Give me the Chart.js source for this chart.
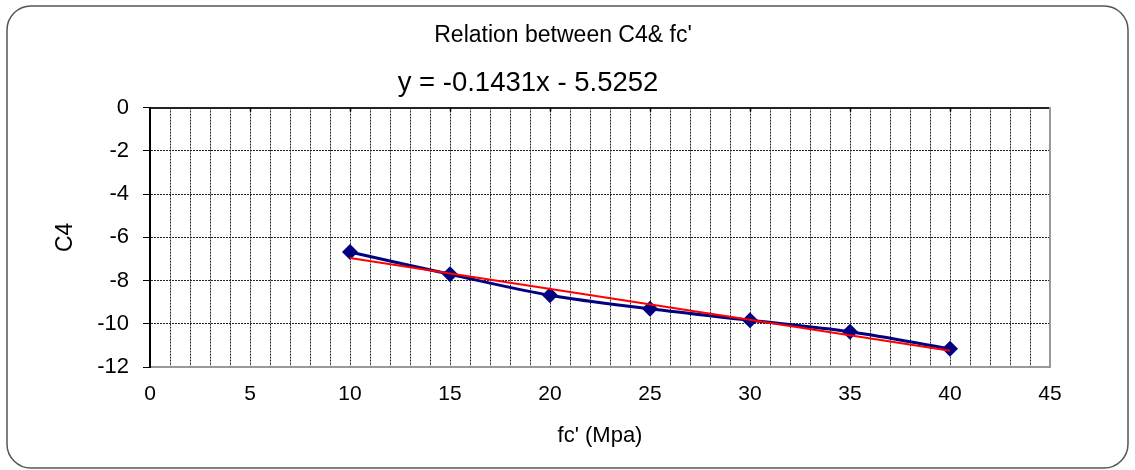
<!DOCTYPE html>
<html>
<head>
<meta charset="utf-8">
<script src="https://cdn.jsdelivr.net/npm/chart.js@4"></script>
<style>
  body { margin: 0; background: #fff; }
</style>
</head>
<body>
<canvas id="myChart" width="1135" height="470"></canvas>
<script>
const fc = [10, 15, 20, 25, 30, 35, 40]
const valoresC4 = [-6.68, -7.71, -8.68, -9.31, -9.84, -10.37, -11.16]
const tendenciaX = [10, 40]
const tendenciaY = [-6.96, -11.25]
const ecuacion = 'y = -0.1431x - 5.5252'
const titulo = "Relation between C4& fc'"

Chart.defaults.font.family = 'Arial, "Liberation Sans", sans-serif'
Chart.defaults.color = '#000'

// marco redondeado, ecuacion de la tendencia y marcas de arriba
const marco = {
    id: 'marco',
    beforeDraw(chart) {
        const ctx = chart.ctx
        ctx.save()
        ctx.strokeStyle = '#555'
        ctx.lineWidth = 1.5
        ctx.beginPath()
        ctx.roundRect(7, 6, 1121, 462, 24)
        ctx.stroke()
        ctx.restore()
    },
    afterDraw(chart) {
        const ctx = chart.ctx
        const ca = chart.chartArea
        const x = chart.scales.x
        ctx.save()
        ctx.strokeStyle = '#000'
        ctx.lineWidth = 1.5
        for (let v = 5; v < 45; v += 5) {
            const px = Math.round(x.getPixelForValue(v)) + 0.5
            ctx.beginPath()
            ctx.moveTo(px, ca.top)
            ctx.lineTo(px, ca.top + 4)
            ctx.stroke()
        }
        ctx.font = '27.5px Arial, "Liberation Sans", sans-serif'
        ctx.fillStyle = '#000'
        ctx.textAlign = 'center'
        ctx.textBaseline = 'middle'
        ctx.fillText(ecuacion, ca.left + 0.42 * (ca.right - ca.left), ca.top - 24)
        ctx.restore()
    }
}

function grafico() {
    const ctx = document.getElementById('myChart')

    const puntos = fc.map((v, i) => ({ x: v, y: valoresC4[i] }))
    const tendencia = tendenciaX.map((v, i) => ({ x: v, y: tendenciaY[i] }))

    new Chart(ctx, {
        type: 'line',
        data: {
            datasets: [
                {
                    label: 'C4',
                    data: puntos,
                    borderColor: '#000080',
                    backgroundColor: '#000080',
                    borderWidth: 3,
                    tension: 0.35,
                    pointStyle: 'rectRot',
                    pointRadius: 8,
                    pointBorderWidth: 0,
                    order: 2
                },
                {
                    label: 'Linear',
                    data: tendencia,
                    borderColor: '#ff0000',
                    borderWidth: 2,
                    pointRadius: 0,
                    tension: 0,
                    order: 1
                }
            ]
        },
        options: {
            responsive: false,
            animation: false,
            events: [],
            layout: {
                padding: { top: 0, right: 9, bottom: 0, left: 0 }
            },
            plugins: {
                legend: { display: false },
                tooltip: { enabled: false },
                title: {
                    display: true,
                    text: titulo,
                    color: '#000',
                    font: { size: 23, weight: 'normal' },
                    padding: { top: 22, bottom: 58 }
                }
            },
            scales: {
                x: {
                    type: 'linear',
                    min: 0,
                    max: 45,
                    ticks: {
                        stepSize: 1,
                        autoSkip: false,
                        maxRotation: 0,
                        padding: 15,
                        color: '#000',
                        font: { size: 21 },
                        callback: v => (v % 5 === 0 ? v : '')
                    },
                    grid: { color: '#222', drawTicks: false },
                    border: { color: '#999', width: 2, dash: [2, 1] },
                    title: {
                        display: true,
                        text: "fc' (Mpa)",
                        color: '#000',
                        font: { size: 22 },
                        padding: { top: 0, bottom: 21 }
                    },
                    afterFit(s) { s.height = 103 }
                },
                x2: {
                    type: 'linear',
                    position: 'top',
                    min: 0,
                    max: 45,
                    ticks: { display: false },
                    grid: { display: false },
                    border: { color: '#222', width: 2 },
                    afterFit(s) { s.height = 0 }
                },
                y: {
                    min: -12,
                    max: 0,
                    ticks: {
                        stepSize: 2,
                        padding: 14,
                        color: '#000',
                        font: { size: 22 }
                    },
                    grid: { color: '#222', tickColor: '#000', tickLength: 7, tickBorderDash: [] },
                    border: { color: '#000', width: 2, dash: [2, 1] },
                    title: {
                        display: true,
                        text: 'C4',
                        color: '#000',
                        font: { size: 23 },
                        padding: { top: 52, bottom: 0 }
                    },
                    afterFit(s) { s.width = 150 }
                },
                y2: {
                    position: 'right',
                    min: -12,
                    max: 0,
                    ticks: { display: false },
                    grid: { display: false },
                    border: { color: '#999', width: 2 },
                    afterFit(s) { s.width = 76 }
                }
            }
        },
        plugins: [marco]
    })
}

grafico()
</script>
</body>
</html>
